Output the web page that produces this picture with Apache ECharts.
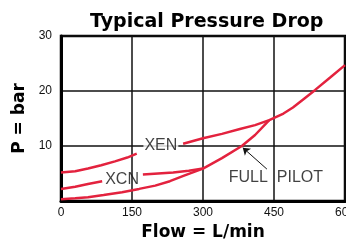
<!DOCTYPE html>
<html>
<head>
<meta charset="utf-8">
<script src="https://cdn.jsdelivr.net/npm/echarts@6/dist/echarts.min.js"></script>
<style>
    html, body { margin: 0; padding: 0; background: #fff; }
    #main { width: 346px; height: 242px; }
</style>
</head>
<body>
<div id="main"></div>
<script>
// flow in L/min, pressure drop in bar
var xenLeftFlow = [0, 30, 57, 85, 114, 140, 160];
var xenLeftP = [5.2, 5.4, 5.9, 6.5, 7.2, 7.9, 8.6];
var xenRightFlow = [258, 300, 340, 378, 410, 440, 470, 490, 515, 537, 568, 600];
var xenRightP = [10.4, 11.4, 12.2, 13.1, 13.8, 14.7, 15.9, 17.0, 18.7, 20.2, 22.4, 24.7];

var xcnLeftFlow = [0, 30, 57, 87];
var xcnLeftP = [2.2, 2.6, 3.1, 3.6];
var xcnRightFlow = [173, 205, 237, 270, 300];
var xcnRightP = [4.8, 5.0, 5.2, 5.5, 5.9];

var pilotFlow = [0, 30, 57, 90, 129, 165, 199, 230, 260, 300, 340, 382, 410, 440];
var pilotP = [0.3, 0.5, 0.7, 1.1, 1.6, 2.2, 2.8, 3.6, 4.6, 5.9, 7.8, 10.0, 12.0, 14.7];

// text notes and the arrow to the full pilot curve
var noteText = ['XEN', 'XCN', 'FULL  PILOT'];
var noteFlow = [211, 129, 454];
var noteP = [10, 3.9, 4.3];
var arrowFrom = [435, 5.8];
var arrowTo = [384, 9.7];

var xTicks = [0, 150, 300, 450, 600];
var yTicks = [0, 10, 20, 30];

function pairs(xs, ys) {
    var out = [];
    for (var i = 0; i < xs.length; i++) out.push([xs[i], ys[i]]);
    return out;
}

var red = '#e3223e';
var chart = echarts.init(document.getElementById('main'));

var notes = [];
for (var i = 0; i < noteText.length; i++) {
    var item = { value: [noteFlow[i], noteP[i]], name: noteText[i] };
    if (noteText[i] == 'XEN') item.label = { backgroundColor: '#fff', padding: [0, 1] };
    notes.push(item);
}

var option = {
    animation: false,
    title: {
        text: 'Typical Pressure Drop',
        left: 85,
        top: 8,
        textStyle: { fontFamily: 'DejaVu Sans', fontWeight: 'bold', fontSize: 19, color: '#000' }
    },
    grid: {
        left: 61, right: 1, top: 36, bottom: 41,
        outerBoundsMode: 'none',
        containLabel: false,
        show: true, borderColor: '#000', borderWidth: 2.5
    },
    xAxis: {
        type: 'value',
        min: xTicks[0], max: xTicks[xTicks.length - 1], interval: 150,
        name: 'Flow = L/min',
        nameLocation: 'middle',
        nameGap: 18,
        nameTextStyle: { fontFamily: 'DejaVu Sans', fontWeight: 'bold', fontSize: 17, color: '#000' },
        axisLine: { lineStyle: { color: '#000', width: 3 } },
        axisTick: { show: false },
        axisLabel: { margin: 6, fontFamily: 'Liberation Sans Narrow, Liberation Sans', fontSize: 12, color: '#111' },
        splitLine: { lineStyle: { color: '#111', width: 1.5 } }
    },
    yAxis: {
        type: 'value',
        min: yTicks[0], max: yTicks[yTicks.length - 1], interval: 10,
        name: 'P = bar',
        nameLocation: 'middle',
        nameGap: 31,
        nameTextStyle: { fontFamily: 'DejaVu Sans', fontWeight: 'bold', fontSize: 17, color: '#000' },
        axisLine: { show: true, lineStyle: { color: '#000', width: 3 } },
        axisTick: { show: false },
        axisLabel: {
            margin: 9, fontFamily: 'Liberation Sans Narrow, Liberation Sans', fontSize: 12, color: '#111',
            showMinLabel: false
        },
        splitLine: { lineStyle: { color: '#111', width: 1.5 } }
    },
    series: [
        {
            name: 'XEN',
            type: 'line',
            showSymbol: false,
            connectNulls: false,
            lineStyle: { color: red, width: 2.5 },
            data: pairs(xenLeftFlow, xenLeftP).concat([[180, '-']], pairs(xenRightFlow, xenRightP))
        },
        {
            name: 'XCN',
            type: 'line',
            showSymbol: false,
            connectNulls: false,
            lineStyle: { color: red, width: 2.5 },
            data: pairs(xcnLeftFlow, xcnLeftP).concat([[120, '-']], pairs(xcnRightFlow, xcnRightP))
        },
        {
            name: 'FULL PILOT',
            type: 'line',
            showSymbol: false,
            lineStyle: { color: red, width: 2.5 },
            data: pairs(pilotFlow, pilotP),
            markLine: {
                silent: true,
                symbol: ['none', 'arrow'],
                symbolSize: 7,
                label: { show: false },
                lineStyle: { color: '#111', width: 1, type: 'solid' },
                data: [[{ coord: arrowFrom }, { coord: arrowTo }]]
            }
        },
        {
            name: 'notes',
            type: 'scatter',
            symbolSize: 0,
            z: 5,
            label: {
                show: true,
                position: 'inside',
                formatter: function (p) { return p.name; },
                fontFamily: 'Liberation Sans',
                fontSize: 16,
                color: '#111'
            },
            data: notes
        }
    ]
};
chart.setOption(option);
</script>
</body>
</html>
